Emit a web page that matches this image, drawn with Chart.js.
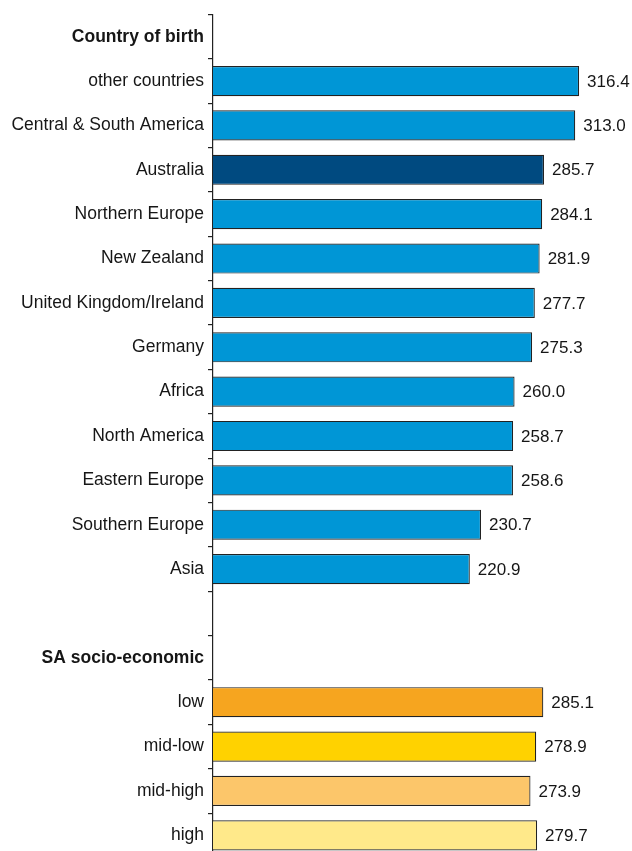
<!DOCTYPE html>
<html>
<head>
<meta charset="utf-8">
<script src="https://cdn.jsdelivr.net/npm/chart.js@4/dist/chart.umd.min.js"></script>
<style>
  html, body { margin: 0; padding: 0; background: #fff; overflow: hidden; }
  #wrap { width: 632px; height: 872px; position: relative; }
</style>
</head>
<body>
<div id="wrap"><canvas id="scores"></canvas></div>
<script>
var countryHeader = 'Country of birth';
var countries = ['other countries', 'Central & South America', 'Australia', 'Northern Europe',
  'New Zealand', 'United Kingdom/Ireland', 'Germany', 'Africa', 'North America',
  'Eastern Europe', 'Southern Europe', 'Asia'];
var countryValues = [316.4, 313.0, 285.7, 284.1, 281.9, 277.7, 275.3, 260.0, 258.7, 258.6, 230.7, 220.9];

var sesHeader = 'SA socio-economic';
var ses = ['low', 'mid-low', 'mid-high', 'high'];
var sesValues = [285.1, 278.9, 273.9, 279.7];

var blue = '#0096d6';
var darkBlue = '#004a80';
var sesColors = ['#f6a51f', '#ffd200', '#fcc66a', '#ffe98a'];

// one row per label: header, countries, a gap, header, ses groups
var labels = [countryHeader].concat(countries, [''], [sesHeader], ses);
var values = [null].concat(countryValues, [null, null], sesValues);
var colors = ['#fff'].concat(countries.map(function(c) {
  return c === 'Australia' ? darkBlue : blue;
}), ['#fff', '#fff'], sesColors);
var headers = [countryHeader, sesHeader];

var xMin = -3.5;

var valueLabels = {
  id: 'valueLabels',
  afterDatasetsDraw: function(chart) {
    var ctx = chart.ctx;
    var meta = chart.getDatasetMeta(0);
    ctx.save();
    ctx.font = '17px "Liberation Sans", Arial, sans-serif';
    ctx.fillStyle = '#161616';
    ctx.textAlign = 'left';
    ctx.textBaseline = 'middle';
    meta.data.forEach(function(bar, i) {
      var v = values[i];
      if (v === null) return;
      ctx.fillText(v.toFixed(1), bar.x + 8, bar.y + 1);
    });
    ctx.restore();
  }
};

var ctx = document.getElementById('scores').getContext('2d');
var chart = new Chart(ctx, {
  type: 'bar',
  data: {
    labels: labels,
    datasets: [{
      data: values,
      base: xMin,
      backgroundColor: colors,
      borderColor: '#222',
      borderWidth: 1.2,
      borderSkipped: 'start',
      categoryPercentage: 1,
      barPercentage: 0.68
    }]
  },
  options: {
    indexAxis: 'y',
    responsive: true,
    maintainAspectRatio: false,
    animation: false,
    layout: { padding: { top: 14, bottom: 0, left: 0, right: 0 } },
    plugins: { legend: { display: false }, tooltip: { enabled: false } },
    scales: {
      x: {
        display: false,
        min: xMin,
        max: 362.6
      },
      y: {
        afterFit: function(scale) { scale.width = 213; },
        border: { display: true, color: '#222', width: 1.2 },
        grid: {
          offset: true,
          drawOnChartArea: false,
          tickLength: 5,
          color: '#222',
          lineWidth: 1.2
        },
        ticks: {
          color: '#161616',
          padding: 4,
          autoSkip: false,
          font: function(c) {
            var lbl = labels[c.index];
            return {
              family: '"Liberation Sans", Arial, sans-serif',
              size: 17.5,
              weight: headers.indexOf(lbl) >= 0 ? 'bold' : 'normal'
            };
          }
        }
      }
    }
  },
  plugins: [valueLabels]
});
</script>
</body>
</html>
